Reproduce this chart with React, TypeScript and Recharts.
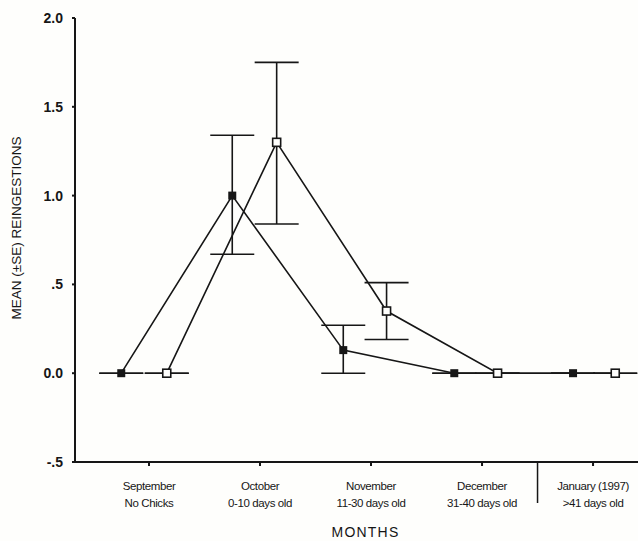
import { ScatterChart, Scatter, XAxis, YAxis, ErrorBar } from "recharts";

const months = ["September", "October", "November", "December", "January (1997)"];
const ages = ["No Chicks", "0-10 days old", "11-30 days old", "31-40 days old", ">41 days old"];
const monthTicks = [1, 2, 3, 4, 5];
const dividerTick = 4.5;

const yTicks = [-0.5, 0, 0.5, 1, 1.5, 2];
const yTickLabels = ["-.5", "0.0", ".5", "1.0", "1.5", "2.0"];

// where each group sits along the month axis (filled left of the tick, open right)
const filledX = [0.75, 1.75, 2.75, 3.75, 4.82];
const openX = [1.16, 2.15, 3.14, 4.14, 5.2];

const filledMean = [0, 1.0, 0.13, 0, 0];
const filledLow = [0, 0.67, 0, 0, 0];
const filledHigh = [0, 1.34, 0.27, 0, 0];

const openMean = [0, 1.3, 0.35, 0, 0];
const openLow = [0, 0.84, 0.19, 0, 0];
const openHigh = [0, 1.75, 0.51, 0, 0];

const INK = "#161616";
const FONT = "'Liberation Sans', Arial, sans-serif";

const build = (xs: number[], mean: number[], low: number[], high: number[]) =>
  xs.map((x, i) => ({
    x,
    y: mean[i],
    err: [mean[i] - low[i], high[i] - mean[i]],
  }));

const filledData = build(filledX, filledMean, filledLow, filledHigh);
const openData = build(openX, openMean, openLow, openHigh);

const FilledSquare = ({ cx, cy }: any) => (
  <rect x={cx - 4} y={cy - 4} width={8} height={8} fill={INK} />
);

const OpenSquare = ({ cx, cy }: any) => (
  <rect
    x={cx - 4}
    y={cy - 4}
    width={8}
    height={8}
    fill="#fefefc"
    stroke={INK}
    strokeWidth={1.6}
  />
);

const MonthTick = ({ x, y, payload }: any) => {
  const v = payload.value;
  if (v === dividerTick) {
    return <line x1={x} y1={y - 8} x2={x} y2={y + 33} stroke={INK} strokeWidth={1.5} />;
  }
  const i = monthTicks.indexOf(v);
  return (
    <g>
      <line x1={x} y1={y - 8} x2={x} y2={y - 4} stroke={INK} strokeWidth={2} />
      <text
        x={x}
        textAnchor="middle"
        fontFamily={FONT}
        fontSize={11.5}
        letterSpacing={-0.4}
        fill={INK}
      >
        <tspan x={x} y={y + 20}>{months[i]}</tspan>
        <tspan x={x} y={y + 37}>{ages[i]}</tspan>
      </text>
    </g>
  );
};

const YTitle = ({ viewBox }: any) => {
  const cx = viewBox.x + 16;
  const cy = viewBox.y + viewBox.height / 2 - 12;
  return (
    <text
      x={cx}
      y={cy}
      transform={`rotate(-90, ${cx}, ${cy})`}
      textAnchor="middle"
      dominantBaseline="central"
      fontFamily={FONT}
      fontSize={13.5}
      fill={INK}
    >
      MEAN (±SE) REINGESTIONS
    </text>
  );
};

export default function App() {
  return (
    <div style={{ position: "absolute", left: 0, top: 0, background: "#fefefc" }}>
      <ScatterChart
        width={638}
        height={541}
        margin={{ top: 18, right: 0, bottom: 0, left: 0 }}
      >
        <XAxis
          type="number"
          dataKey="x"
          domain={[1 / 3, 5.405]}
          ticks={[...monthTicks, dividerTick]}
          tick={<MonthTick />}
          tickLine={false}
          axisLine={{ stroke: INK, strokeWidth: 2 }}
          height={79}
          interval={0}
          allowDataOverflow
          label={{
            value: "MONTHS",
            position: "insideBottom",
            offset: 4,
            dx: 9,
            fontFamily: FONT,
            fontSize: 14,
            letterSpacing: 1.2,
            fill: INK,
          }}
        />
        <YAxis
          type="number"
          dataKey="y"
          domain={[-0.5, 2]}
          ticks={yTicks}
          tickFormatter={(v: number) => yTickLabels[yTicks.indexOf(v)]}
          width={75}
          tickSize={3}
          tickMargin={9}
          tick={{ fontFamily: FONT, fontSize: 14, fontWeight: "bold", fill: INK }}
          tickLine={{ stroke: INK, strokeWidth: 2 }}
          axisLine={{ stroke: INK, strokeWidth: 2 }}
          label={<YTitle />}
        />
        <Scatter
          data={filledData}
          line={{ stroke: INK, strokeWidth: 1.6 }}
          shape={<FilledSquare />}
          isAnimationActive={false}
        >
          <ErrorBar dataKey="err" direction="y" width={22} stroke={INK} strokeWidth={1.6} />
        </Scatter>
        <Scatter
          data={openData}
          line={{ stroke: INK, strokeWidth: 1.6 }}
          shape={<OpenSquare />}
          isAnimationActive={false}
        >
          <ErrorBar dataKey="err" direction="y" width={22} stroke={INK} strokeWidth={1.6} />
        </Scatter>
      </ScatterChart>
    </div>
  );
}
